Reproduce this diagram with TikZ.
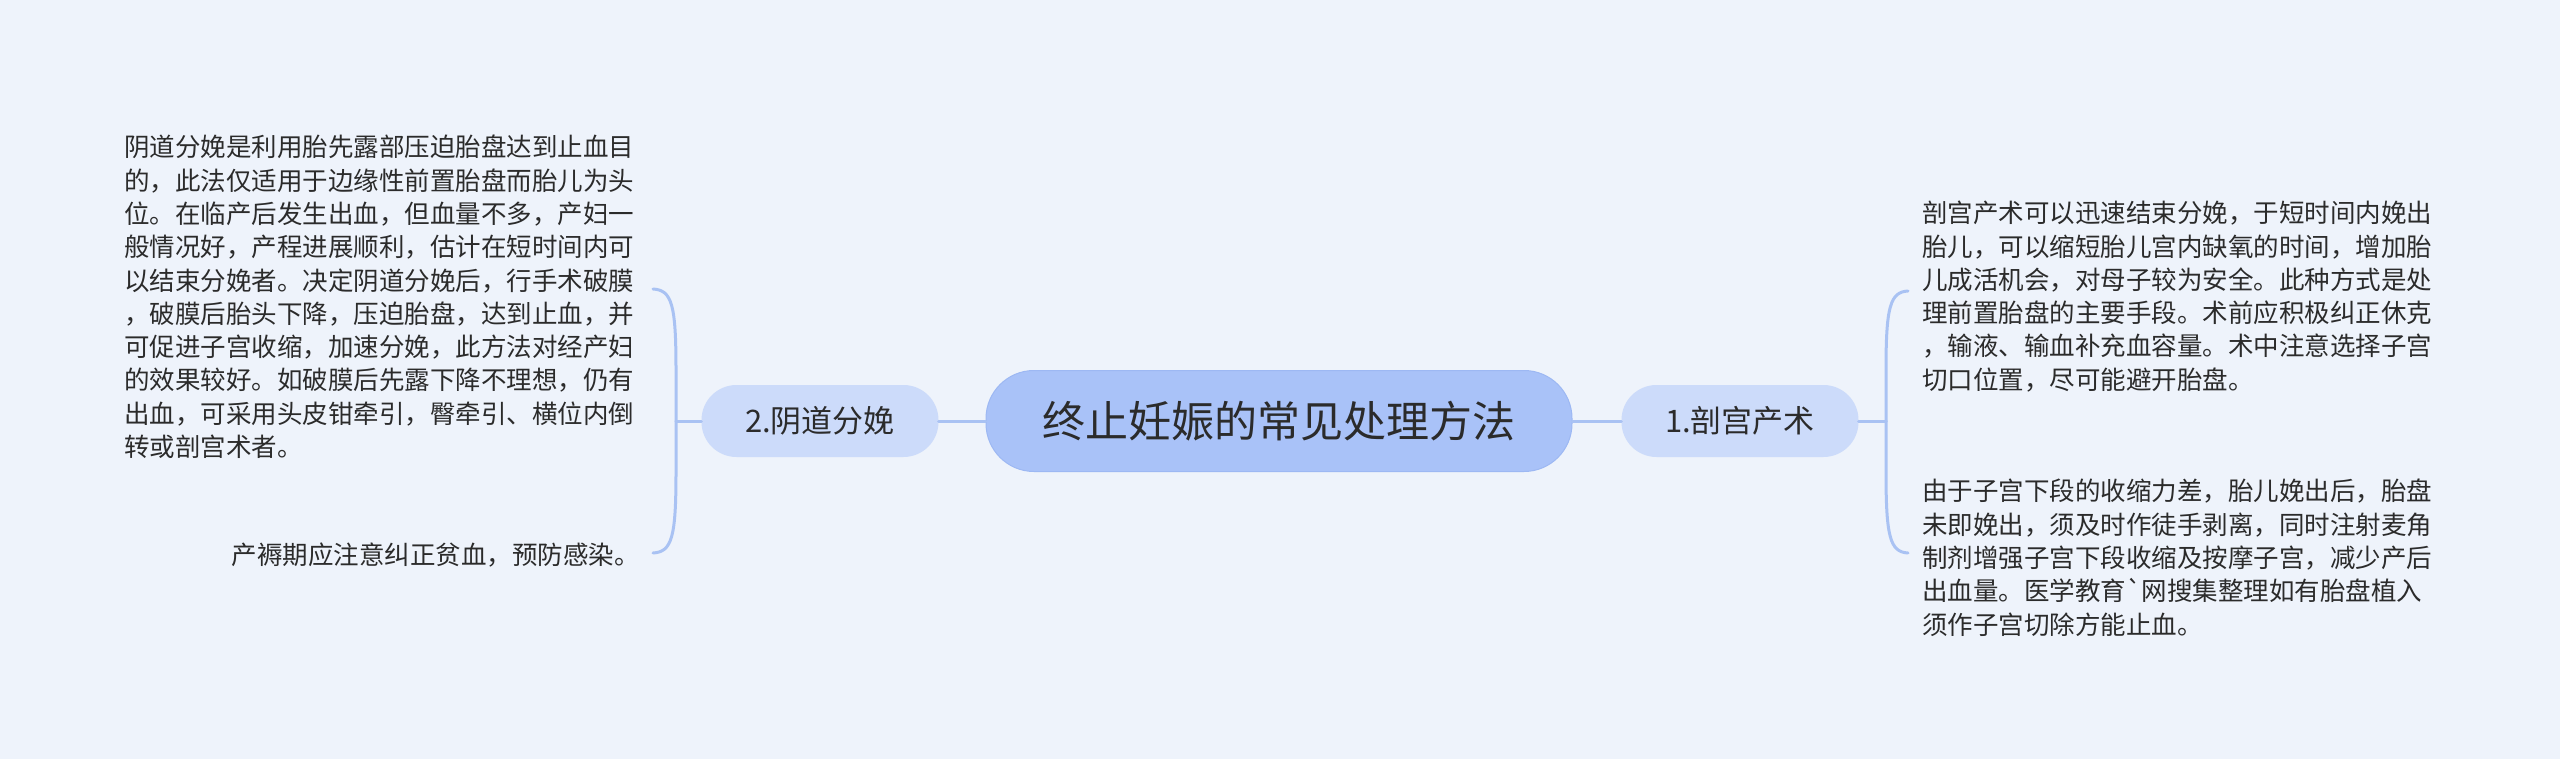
\documentclass[tikz,border=0pt]{standalone}
\usepackage{fontspec}
\setmainfont{Noto Sans CJK SC}
\newfontfamily\plainfont{Noto Sans CJK SC}
\definecolor{bgc}{HTML}{EEF3FB}
\definecolor{rootfill}{HTML}{A9C2F8}
\definecolor{rootdraw}{HTML}{9DB8F3}
\definecolor{subfill}{HTML}{CCDBFA}
\definecolor{linec}{HTML}{A9C2F3}
\definecolor{txt}{HTML}{2B2B2B}
\tikzset{
  rootnode/.style={fill=rootfill, draw=rootdraw, line width=1pt, rounded corners=48pt,
    minimum width=586pt, minimum height=101pt, inner sep=0pt, text=txt,
    font=\fontsize{43}{50}\selectfont},
  subnode/.style={fill=subfill, draw=none, rounded corners=35pt,
    minimum width=237pt, minimum height=72pt, inner sep=0pt, text=txt,
    font=\fontsize{31}{36}\selectfont},
  bodytext/.style={inner sep=0pt, text=txt, align=left,
    font=\fontsize{25.5}{33.3}\selectfont},
  conn/.style={draw=linec, line width=3pt, line cap=round},
}
\begin{document}
\begin{tikzpicture}[x=1pt,y=-1pt]
\fill[bgc] (0,0) rectangle (2560,759);
\useasboundingbox (0,0) rectangle (2560,759);

\node[rootnode] (root) at (1279,421) {终止妊娠的常见处理方法};
\node[subnode] (n2) at (820,421) {2.阴道分娩};
\node[subnode] (n1) at (1740,421) {1.剖宫产术};

% left texts
\node[bodytext, anchor=north west] (l1) at (124,135) {阴道分娩是利用胎先露部压迫胎盘达到止血目\\的，此法仅适用于边缘性前置胎盘而胎儿为头\\位。在临产后发生出血，但血量不多，产妇一\\般情况好，产程进展顺利，估计在短时间内可\\以结束分娩者。决定阴道分娩后，行手术破膜\\，破膜后胎头下降，压迫胎盘，达到止血，并\\可促进子宫收缩，加速分娩，此方法对经产妇\\的效果较好。如破膜后先露下降不理想，仍有\\出血，可采用头皮钳牵引，臀牵引、横位内倒\\转或剖宫术者。};
\node[bodytext, anchor=east] (l2) at (640,555) {产褥期应注意纠正贫血，预防感染。};

% right texts
\node[bodytext, anchor=north west] (r1) at (1922,201) {剖宫产术可以迅速结束分娩，于短时间内娩出\\胎儿，可以缩短胎儿宫内缺氧的时间，增加胎\\儿成活机会，对母子较为安全。此种方式是处\\理前置胎盘的主要手段。术前应积极纠正休克\\，输液、输血补充血容量。术中注意选择子宫\\切口位置，尽可能避开胎盘。};
\node[bodytext, anchor=north west] (r2) at (1922,479) {由于子宫下段的收缩力差，胎儿娩出后，胎盘\\未即娩出，须及时作徒手剥离，同时注射麦角\\制剂增强子宫下段收缩及按摩子宫，减少产后\\出血量。医学教育{\plainfont `}网搜集整理如有胎盘植入\\须作子宫切除方能止血。};

% junction coordinates
\coordinate (lj) at (676,421);
\coordinate (rj) at (1886,421);
\coordinate (lt) at (653,289);
\coordinate (lb) at (653,553);
\coordinate (rt) at (1908,291);
\coordinate (rb) at (1908,553);

\draw[conn] (root.west) -- (n2.east);
\draw[conn] (root.east) -- (n1.west);
\draw[conn] (n2.west) -- (lj);
\draw[conn] (n1.east) -- (rj);
\draw[conn] (lj) -- (676,370) .. controls (676,305) and (672,290) .. (lt);
\draw[conn] (lj) -- (676,472) .. controls (676,537) and (672,552) .. (lb);
\draw[conn] (rj) -- (1886,370) .. controls (1886,307) and (1890,292) .. (rt);
\draw[conn] (rj) -- (1886,472) .. controls (1886,537) and (1890,552) .. (rb);
\end{tikzpicture}
\end{document}
